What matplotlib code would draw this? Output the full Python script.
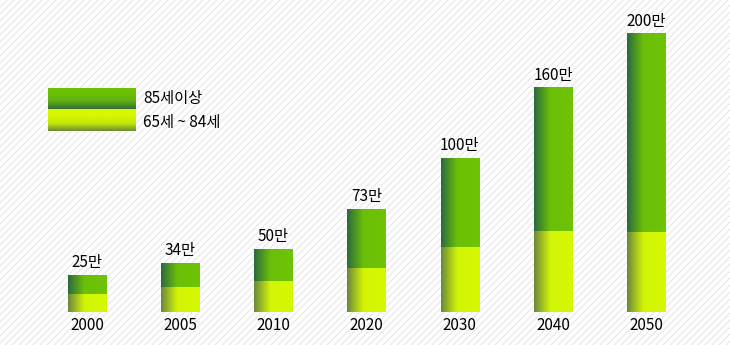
import matplotlib
matplotlib.use('Agg')
import matplotlib.pyplot as plt
import numpy as np
from matplotlib.colors import LinearSegmentedColormap

plt.rcParams['font.family'] = ['Noto Sans CJK KR', 'DejaVu Sans']

years = ['2000', '2005', '2010', '2020', '2030', '2040', '2050']
age65_84 = [13, 18, 22, 32, 47, 58, 57.5]      # lower segment
age85 = [13.5, 17, 23, 42, 64, 103, 142.5]     # upper segment
totals = ['25만', '34만', '50만', '73만', '100만', '160만', '200만']
legend_labels = ['85세이상', '65세 ~ 84세']

# horizontal gradients: dark at left edge -> bright
upper_cmap = LinearSegmentedColormap.from_list(
    'up', [(0, '#2b6a3e'), (0.42, '#6cbf08'), (1, '#6ec406')])
lower_cmap = LinearSegmentedColormap.from_list(
    'lo', [(0, '#6a863c'), (0.42, '#d2f506'), (1, '#d6f802')])

fig = plt.figure(figsize=(7.3, 3.45), dpi=100)

# striped background
bg = fig.add_axes([0, 0, 1, 1])
bg.set_xlim(0, 730)
bg.set_ylim(0, 345)
bg.axis('off')
for c in np.arange(-345, 730, 7):
    bg.plot([c, c + 345], [0, 345], color='#e6e6e6', lw=0.8, zorder=0)

ax = fig.add_axes([0, 0, 1, 1])
ax.patch.set_alpha(0)
ax.set_xlim(-0.934, 6.90)
ax.set_ylim(-23.7, 224.5)
ax.axis('off')

grad = np.linspace(0, 1, 256).reshape(1, -1)
w = 0.41
x = np.arange(len(years))
for i in x:
    lo = age65_84[i]
    up = age85[i]
    ax.imshow(grad, cmap=lower_cmap, aspect='auto',
              extent=(i - w / 2, i + w / 2, 0, lo), zorder=2)
    ax.imshow(grad, cmap=upper_cmap, aspect='auto',
              extent=(i - w / 2, i + w / 2, lo, lo + up), zorder=2)
    ax.text(i, lo + up + 3, totals[i], ha='center', va='bottom',
            fontsize=11, color='black')
    ax.text(i, -10, years[i], ha='center', va='center',
            fontsize=11, color='black')

# legend swatches (vertical gradients)
vgrad = np.linspace(1, 0, 256).reshape(-1, 1)
leg_up = LinearSegmentedColormap.from_list(
    'lu', [(0, '#2e6a36'), (0.35, '#5fae14'), (0.7, '#6cc006'), (1, '#6ec200')])
leg_lo = LinearSegmentedColormap.from_list(
    'll', [(0, '#6a8a34'), (0.35, '#c2e80a'), (0.7, '#d6f800'), (1, '#d8f800')])
lax = fig.add_axes([48 / 730, 1 - 131 / 345, 88 / 730, 43 / 345])
lax.axis('off')
lax.imshow(vgrad, cmap=leg_lo, aspect='auto', extent=(0, 1, 0, 1))
lax.imshow(vgrad, cmap=leg_up, aspect='auto', extent=(0, 1, 1, 2))
lax.set_xlim(0, 1)
lax.set_ylim(0, 2)

fig.text(143 / 730, 1 - 99 / 345, legend_labels[0], ha='left', va='center',
         fontsize=11, color='black')
fig.text(143 / 730, 1 - 123 / 345, legend_labels[1], ha='left', va='center',
         fontsize=11, color='black')

fig.savefig('out.png', dpi=100)
